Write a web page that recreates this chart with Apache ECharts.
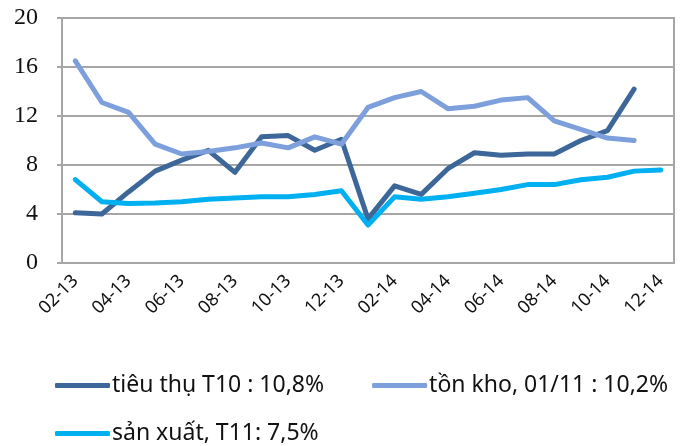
<!DOCTYPE html>
<html>
<head>
<meta charset="utf-8">
<script src="https://cdn.jsdelivr.net/npm/echarts@6/dist/echarts.min.js"></script>
<style>
  html, body { margin: 0; padding: 0; background: #fff; }
  #main { width: 693px; height: 446px; }
</style>
</head>
<body>
<div id="main"></div>
<script>
// months 02-13 .. 12-14
const months = ['02-13','03-13','04-13','05-13','06-13','07-13','08-13','09-13','10-13','11-13','12-13',
  '01-14','02-14','03-14','04-14','05-14','06-14','07-14','08-14','09-14','10-14','11-14','12-14'];

const tieuThu = [4.1, 4.0, 5.8, 7.5, 8.4, 9.2, 7.4, 10.3, 10.4, 9.2, 10.1,
  3.6, 6.3, 5.6, 7.7, 9.0, 8.8, 8.9, 8.9, 10.0, 10.8, 14.2, null];
const tonKho = [16.5, 13.1, 12.3, 9.7, 8.9, 9.1, 9.4, 9.8, 9.4, 10.3, 9.7,
  12.7, 13.5, 14.0, 12.6, 12.8, 13.3, 13.5, 11.6, 10.9, 10.2, 10.0, null];
const sanXuat = [6.8, 5.0, 4.85, 4.9, 5.0, 5.2, 5.3, 5.4, 5.4, 5.6, 5.9,
  3.1, 5.4, 5.2, 5.4, 5.7, 6.0, 6.4, 6.4, 6.8, 7.0, 7.5, 7.6];

const names = ['tiêu thụ T10 : 10,8%', 'tồn kho, 01/11 : 10,2%', 'sản xuất, T11: 7,5%'];
const colors = ['#3d6799', '#7d9fdc', '#00b0f0'];

const chart = echarts.init(document.getElementById('main'));

const legendText = { fontFamily: 'Noto Sans', fontSize: 23, color: '#111', padding: [0, 0, 0, -3] };

chart.setOption({
  animation: false,
  grid: {
    left: 62, right: 19, top: 18, bottom: 183,
    show: true, borderColor: '#a6a6a6', borderWidth: 2
  },
  legend: [
    {
      data: [names[0], names[1]],
      left: 50, top: 369,
      icon: 'roundRect', itemWidth: 55, itemHeight: 5, itemGap: 48,
      textStyle: legendText
    },
    {
      data: [names[2]],
      left: 50, top: 417,
      icon: 'roundRect', itemWidth: 55, itemHeight: 5,
      textStyle: legendText
    }
  ],
  xAxis: {
    type: 'category',
    data: months,
    boundaryGap: true,
    axisLine: { lineStyle: { color: '#a6a6a6', width: 2 } },
    axisTick: { show: false },
    axisLabel: {
      interval: 1, rotate: 45, margin: 15,
      fontFamily: 'Noto Sans', fontSize: 18, color: '#111'
    }
  },
  yAxis: {
    type: 'value',
    min: 0, max: 20, interval: 4,
    axisLine: { show: true, lineStyle: { color: '#a6a6a6', width: 2 } },
    axisTick: { show: true, length: 5, lineStyle: { color: '#a6a6a6', width: 2 } },
    splitLine: { lineStyle: { color: '#a6a6a6', width: 2 } },
    axisLabel: {
      margin: 24,
      fontFamily: 'Liberation Serif', fontSize: 24, color: '#111'
    }
  },
  series: [
    { name: names[0], type: 'line', data: tieuThu },
    { name: names[1], type: 'line', data: tonKho },
    { name: names[2], type: 'line', data: sanXuat }
  ].map((s, i) => Object.assign(s, {
    showSymbol: false,
    symbol: 'none',
    color: colors[i],
    lineStyle: { width: 5, color: colors[i], cap: 'round', join: 'round' }
  }))
});
</script>
</body>
</html>
